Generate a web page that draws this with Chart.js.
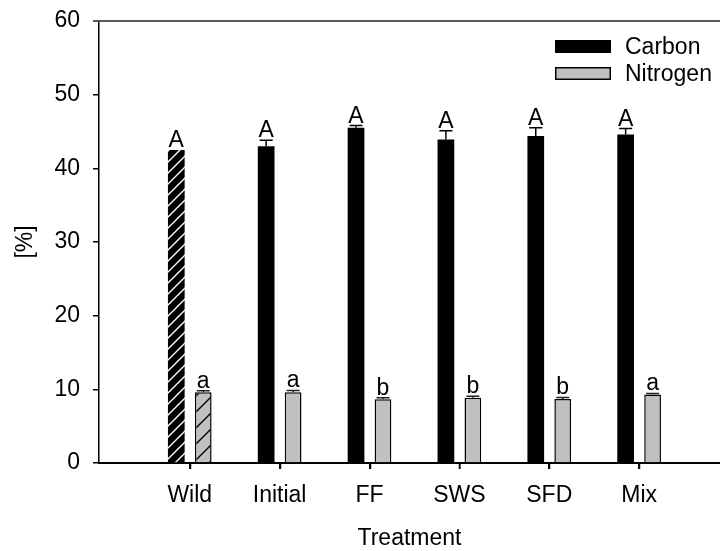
<!DOCTYPE html>
<html>
<head>
<meta charset="utf-8">
<script src="https://cdn.jsdelivr.net/npm/chart.js@4"></script>
<style>
  html, body { margin: 0; padding: 0; background: #ffffff; }
  #wrap { width: 720px; height: 551px; position: relative; }
</style>
</head>
<body>
<div id="wrap"><canvas id="c" width="720" height="551"></canvas></div>
<script>
// ---- data ----
const categories = ['Wild', 'Initial', 'FF', 'SWS', 'SFD', 'Mix'];
const carbon = [42.5, 43.0, 45.5, 43.9, 44.4, 44.6];
const carbonErr = [0, 0.8, 0.3, 1.2, 1.1, 0.8];
const nitrogen = [9.6, 9.6, 8.65, 8.85, 8.7, 9.3];
const nitrogenErr = [0.2, 0.25, 0.2, 0.2, 0.2, 0.15];
const carbonLetters = ['A', 'A', 'A', 'A', 'A', 'A'];
const nitrogenLetters = ['a', 'a', 'b', 'b', 'b', 'a'];
const hatched = [true, false, false, false, false, false];
const yTicks = [0, 10, 20, 30, 40, 50, 60];

const FONT = 'Liberation Sans, Arial, sans-serif';
const FS = 23;

function makeHatch(bg, fg, size, lw) {
  const c = document.createElement('canvas');
  c.width = size; c.height = size;
  const g = c.getContext('2d');
  g.fillStyle = bg; g.fillRect(0, 0, size, size);
  g.strokeStyle = fg; g.lineWidth = lw;
  g.beginPath();
  g.moveTo(-1, size + 1); g.lineTo(size + 1, -1);
  g.moveTo(-1, 1); g.lineTo(1, -1);
  g.moveTo(size - 1, size + 1); g.lineTo(size + 1, size - 1);
  g.stroke();
  return g.createPattern(c, 'repeat');
}
const carbonHatch = makeHatch('#000000', '#ffffff', 11, 1.4);
const nitrogenHatch = makeHatch('#c0c0c0', '#000000', 16, 1.4);

const errData = [carbonErr, nitrogenErr];
const letterData = [carbonLetters, nitrogenLetters];

const errorBarPlugin = {
  id: 'errorBars',
  afterDatasetsDraw(chart) {
    const ctx = chart.ctx;
    const ys = chart.scales.y;
    ctx.save();
    chart.data.datasets.forEach((ds, di) => {
      const meta = chart.getDatasetMeta(di);
      meta.data.forEach((bar, i) => {
        const v = ds.data[i].y;
        const e = errData[di][i];
        let topY = bar.y;
        if (e > 0) {
          topY = ys.getPixelForValue(v + e);
          ctx.strokeStyle = di === 0 ? '#000000' : '#222222';
          ctx.lineWidth = 1.5;
          ctx.beginPath();
          ctx.moveTo(bar.x, bar.y);
          ctx.lineTo(bar.x, topY);
          ctx.moveTo(bar.x - 6.5, topY);
          ctx.lineTo(bar.x + 6.5, topY);
          ctx.stroke();
        }
        ctx.fillStyle = '#000000';
        ctx.font = FS + 'px ' + FONT;
        ctx.textAlign = 'center';
        ctx.textBaseline = 'alphabetic';
        ctx.fillText(letterData[di][i], bar.x, topY - 3);
      });
    });
    ctx.restore();
  }
};

const framePlugin = {
  id: 'frameLegend',
  afterDraw(chart) {
    const ctx = chart.ctx;
    const a = chart.chartArea;
    const xs = chart.scales.x;
    ctx.save();
    // top frame line
    ctx.strokeStyle = '#5a5a5a';
    ctx.lineWidth = 2;
    ctx.beginPath();
    ctx.moveTo(a.left - 6, a.top);
    ctx.lineTo(chart.width, a.top);
    ctx.stroke();
    // x-axis tick marks at category positions
    ctx.strokeStyle = '#000000';
    ctx.lineWidth = 1.5;
    ctx.beginPath();
    xs.ticks.forEach((t, i) => {
      const px = Math.round(xs.getPixelForTick(i)) + 0.5;
      ctx.moveTo(px, a.bottom);
      ctx.lineTo(px, a.bottom + 6);
    });
    ctx.stroke();
    // legend
    const items = chart.data.datasets;
    const lx = 555, ly = 40, sw = 56, sh = 13, gap = 27;
    ctx.font = FS + 'px ' + FONT;
    ctx.textAlign = 'left';
    ctx.textBaseline = 'middle';
    items.forEach((ds, i) => {
      const y = ly + i * gap;
      ctx.fillStyle = ds.legendFill;
      ctx.fillRect(lx, y, sw, sh);
      if (ds.legendBorder) {
        ctx.strokeStyle = '#000000';
        ctx.lineWidth = 1.5;
        ctx.strokeRect(lx + 0.75, y + 0.75, sw - 1.5, sh - 1.5);
      }
      ctx.fillStyle = '#000000';
      ctx.fillText(ds.label, lx + 70, y + sh / 2 + 1);
    });
    ctx.restore();
  }
};

const chart = new Chart(document.getElementById('c'), {
  type: 'bar',
  data: {
    datasets: [
      {
        label: 'Carbon',
        data: carbon.map((v, i) => ({ x: i, y: v })),
        backgroundColor: (c) => hatched[c.dataIndex] ? carbonHatch : '#000000',
        borderColor: '#000000',
        borderWidth: 0,
        legendFill: '#000000',
        legendBorder: false
      },
      {
        label: 'Nitrogen',
        data: nitrogen.map((v, i) => ({ x: i, y: v })),
        backgroundColor: (c) => hatched[c.dataIndex] ? nitrogenHatch : '#c0c0c0',
        borderColor: '#000000',
        borderWidth: 1.5,
        legendFill: '#c0c0c0',
        legendBorder: true
      }
    ]
  },
  options: {
    responsive: false,
    animation: false,
    events: [],
    categoryPercentage: 0.6,
    barPercentage: 0.62,
    layout: { padding: { top: 21, right: 0, bottom: 0, left: 0 } },
    plugins: { legend: { display: false }, tooltip: { enabled: false } },
    scales: {
      x: {
        type: 'linear',
        min: -1.01,
        max: 5.9,
        offset: false,
        afterBuildTicks: (s) => { s.ticks = categories.map((_, i) => ({ value: i })); },
        afterFit: (s) => { s.height = 88; s.paddingLeft = 0; s.paddingRight = 0; },
        ticks: {
          autoSkip: false,
          maxRotation: 0,
          padding: 13,
          color: '#000000',
          font: { family: FONT, size: FS },
          callback: (v) => categories[v]
        },
        grid: { display: true, offset: false, drawOnChartArea: false, drawTicks: true, tickLength: 6, color: '#000000', lineWidth: 1.5 },
        border: { display: true, color: '#000000', width: 2 },
        title: {
          display: true,
          text: 'Treatment',
          color: '#000000',
          font: { family: FONT, size: FS, lineHeight: 1 },
          padding: { top: 0, bottom: 1 }
        }
      },
      y: {
        min: 0,
        max: 60,
        afterBuildTicks: (s) => { s.ticks = yTicks.map(v => ({ value: v })); },
        afterFit: (s) => { s.width = 99; s.paddingTop = 0; s.paddingBottom = 0; },
        ticks: {
          padding: 13,
          color: '#000000',
          font: { family: FONT, size: FS }
        },
        grid: { display: true, drawOnChartArea: false, drawTicks: true, tickLength: 6, color: '#000000', lineWidth: 1.5 },
        border: { display: true, color: '#000000', width: 1.5 },
        title: {
          display: true,
          text: '[%]',
          color: '#000000',
          font: { family: FONT, size: FS, lineHeight: 1 },
          padding: { top: 14, bottom: 0 }
        }
      }
    }
  },
  plugins: [errorBarPlugin, framePlugin]
});
</script>
</body>
</html>
